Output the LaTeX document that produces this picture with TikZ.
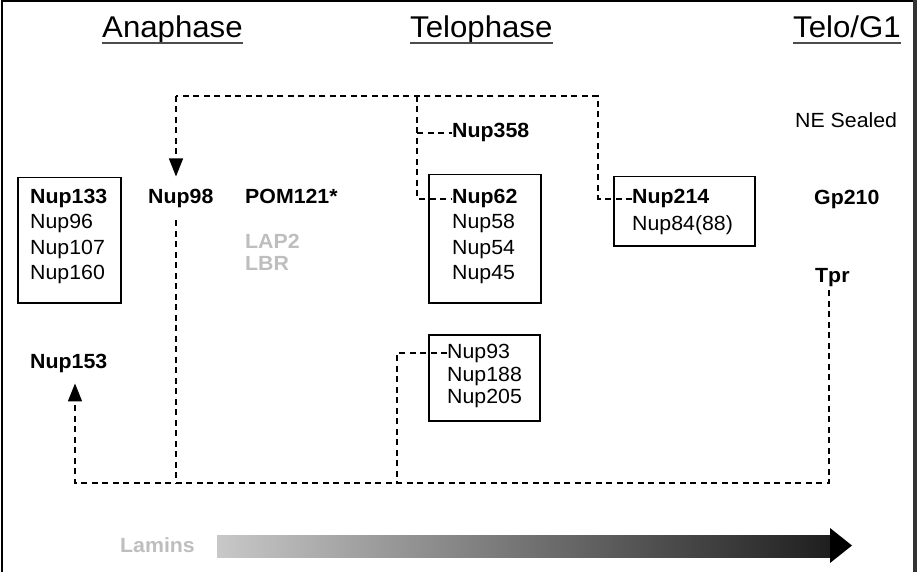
\documentclass[tikz,border=0pt]{standalone}
\usepackage{fontspec}
\setmainfont{Liberation Sans}[FakeStretch=1.04]
\usetikzlibrary{arrows.meta,calc}
\definecolor{lightgray}{RGB}{190,190,190}
\tikzset{
  lbl/.style={anchor=base west, inner sep=0pt, font=\fontsize{20.5}{24}\selectfont},
  blbl/.style={lbl, font=\fontsize{20.5}{24}\selectfont\bfseries},
  glbl/.style={blbl, text=lightgray},
  title/.style={anchor=base west, inner sep=0pt, font=\fontsize{30}{34}\selectfont},
  frame/.style={draw, line width=1.5pt, inner sep=0pt, anchor=north west},
  dline/.style={line width=1.5pt, dash pattern=on 6pt off 4.5pt},
  tip/.style={-{Triangle[length=18pt,width=14pt]}},
}
\begin{document}
\begin{tikzpicture}[x=1pt,y=-1pt]
\useasboundingbox (0,0) rectangle (918,572);
% outer frame
\draw[line width=1.5pt] (2,572) -- (2,1) -- (914,1);
\draw[line width=4pt, black!80] (915,0) -- (915,572);

% phase headings
\node[title] (ana) at (102,38) {Anaphase};
\node[title] (telo) at (410,38) {Telophase};
\node[title] (tg) at (793,38) {Telo/G1};
\foreach \t in {ana,telo,tg}
  \draw[line width=1.6pt, black!70] ([yshift=-5pt]\t.base west) -- ([yshift=-5pt]\t.base east);

% boxes
\node[frame, minimum width=103pt, minimum height=125pt] (boxA) at (17,177) {};
\node[frame, minimum width=112pt, minimum height=128pt] (boxB) at (428,174) {};
\node[frame, minimum width=141pt, minimum height=69pt] (boxC) at (613,176) {};
\node[frame, minimum width=111pt, minimum height=86pt] (boxD) at (428,334) {};

% anaphase group
\node[blbl] (nup133) at (30,204) {Nup133};
\node[lbl] (nup96) at (30,229) {Nup96};
\node[lbl] (nup107) at (30,254) {Nup107};
\node[lbl] (nup160) at (30,279) {Nup160};
\node[blbl] (nup98) at (148,204) {Nup98};
\node[blbl] (pom) at (245,204) {POM121*};
\node[glbl] (lap2) at (245,248) {LAP2};
\node[glbl] (lbr) at (245,270) {LBR};
\node[blbl] (nup153) at (30,368) {Nup153};

% telophase groups
\node[blbl] (nup358) at (452,138) {Nup358};
\node[blbl] (nup62) at (452,204) {Nup62};
\node[lbl] (nup58) at (452,229) {Nup58};
\node[lbl] (nup54) at (452,254) {Nup54};
\node[lbl] (nup45) at (452,279) {Nup45};
\node[blbl] (nup214) at (632,204) {Nup214};
\node[lbl] (nup84) at (632,230) {Nup84(88)};
\node[lbl] (nup93) at (447,358) {Nup93};
\node[lbl] (nup188) at (447,381) {Nup188};
\node[lbl] (nup205) at (447,403) {Nup205};

% telo/G1
\node[lbl] (nes) at (795,128) {NE Sealed};
\node[blbl] (gp210) at (814,205) {Gp210};
\node[blbl] (tpr) at (815,282) {Tpr};

% turning points of the connectors
\coordinate (tA) at (176,96);
\coordinate (tB) at (417,96);
\coordinate (tC) at (598,96);
\coordinate (bA) at (75,483);
\coordinate (bB) at (176,483);
\coordinate (bC) at (397,483);
\coordinate (bD) at (829,483);

% upper connector: Nup214 / Nup62 / Nup358 -> Nup98
\draw[dline] (nup214.west) -| (tC) -- (tA);
\draw[dline, tip, shorten >=13pt] (tA) -- (tA |- nup98.north);
\draw[dline] (tB) |- (nup62.west);
\draw[dline] (tB |- nup358.west) -- (nup358.west);

% lower connector: Tpr / Nup93 / Nup98 -> Nup153
\draw[dline, tip, shorten >=11pt] ($(bD |- tpr.south)+(0,4)$) -- (bD) -- (bA) -- (bA |- nup153.south);
\draw[dline] ($(tA |- nup98.south)+(0,12)$) -- (bB);
\draw[dline] (nup93.west) -| (bC);

% lamins gradient arrow
\node[glbl] (lamins) at (120,552) {Lamins};
\shade[left color={rgb,255:red,200;green,200;blue,200}, right color=black!88]
  (217,535) rectangle (831,557);
\fill (830,528) -- (852,545.5) -- (830,563) -- cycle;
\end{tikzpicture}
\end{document}
